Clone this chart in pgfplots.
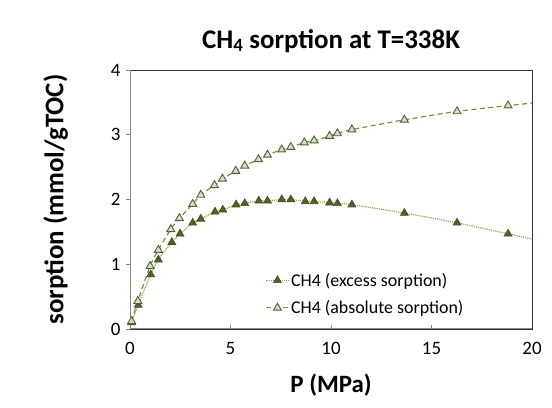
\documentclass[border=0pt]{standalone}
\usepackage{pgfplots}
\pgfplotsset{compat=1.18}
\usepackage{fontspec}
\setmainfont{Carlito}
\definecolor{olivedark}{HTML}{4F6228}
\definecolor{oliveline}{HTML}{76923C}
\definecolor{olivelight}{HTML}{8FA85A}
\definecolor{axgray}{HTML}{868686}
\begin{document}
\begin{tikzpicture}
\path[use as bounding box] (0,0) rectangle (552bp,408bp);
\begin{axis}[
  at={(130bp,79bp)}, anchor=south west,
  scale only axis, width=402bp, height=259bp,
  xmin=0, xmax=20, ymin=0, ymax=4,
  xtick={0,5,10,15,20}, ytick={0,1,2,3,4},
  /pgf/number format/assume math mode=true,
  tick label style={font=\fontsize{19}{22}\selectfont},
  axis line style={draw=black!80, line width=0.8bp},
  tick style={draw=axgray, line width=0.8bp},
  xtick align=inside, ytick align=outside,
  major tick length=4bp,
  xtick pos=bottom, ytick pos=left,
  xticklabel style={yshift=-10bp},
  yticklabel style={xshift=-2bp},
  title={\textbf{CH$_\mathbf{4}$ sorption at T=338K}},
  title style={font=\fontsize{27}{32}\selectfont, at={(0.5,1)}, yshift=8bp},
  xlabel={\textbf{P (MPa)}},
  ylabel={\textbf{sorption (mmol/gTOC)}},
  xlabel style={font=\fontsize{25}{30}\selectfont, yshift=-12bp},
  ylabel style={font=\fontsize{27}{32}\selectfont, yshift=36bp},
  legend style={at={(axis cs:6.6,0.93)}, anchor=north west, draw=none, fill=none,
    font=\fontsize{18}{21}\selectfont, row sep=9bp,
    /tikz/every even column/.append style={column sep=0bp}},
  legend cell align=left,
  legend image code/.code={
    \draw[#1] (0bp,0bp) -- (22bp,0bp);
    \draw[#1, solid] plot coordinates {(11bp,0bp)};
  },
]
% excess sorption
\addplot[olivelight, densely dotted, line width=1.2bp, smooth,
  mark=triangle*, mark size=4.6bp, mark indices={1,...,24},
  mark options={solid, fill=olivedark, draw=olivedark!80!black, line width=0.6bp}]
coordinates {
(0.08,0.10) (0.41,0.37) (1.03,0.84) (1.41,1.07) (2.08,1.34) (2.49,1.47)
(3.12,1.64) (3.52,1.70) (4.23,1.81) (4.62,1.84) (5.28,1.92) (5.71,1.94)
(6.41,1.98) (6.84,1.98) (7.55,2.00) (8.00,2.00) (8.72,1.97) (9.16,1.97)
(9.93,1.95) (10.32,1.94) (11.04,1.92) (13.65,1.79) (16.27,1.64) (18.81,1.47)
(20.00,1.39)
};
\addlegendentry{CH4 (excess sorption)}
% absolute sorption
\addplot[oliveline, dash pattern=on 5bp off 3.5bp, line width=1.2bp, smooth,
  mark=triangle*, mark size=4.6bp, mark indices={1,...,24},
  mark options={solid, fill=gray!30, draw=olivedark, line width=0.9bp}]
coordinates {
(0.08,0.12) (0.39,0.43) (1.00,0.97) (1.41,1.22) (2.03,1.54) (2.46,1.71)
(3.12,1.93) (3.52,2.07) (4.20,2.22) (4.60,2.32) (5.26,2.44) (5.71,2.52)
(6.39,2.62) (6.84,2.69) (7.55,2.77) (8.00,2.81) (8.67,2.88) (9.16,2.91)
(9.93,2.98) (10.32,3.02) (11.04,3.08) (13.65,3.23) (16.27,3.36) (18.81,3.45)
(20.00,3.49)
};
\addlegendentry{CH4 (absolute sorption)}
\draw[axgray, line width=1.8bp] (axis cs:0,4) -- (axis cs:0,0) -- (axis cs:20,0);
\end{axis}
\end{tikzpicture}
\end{document}
